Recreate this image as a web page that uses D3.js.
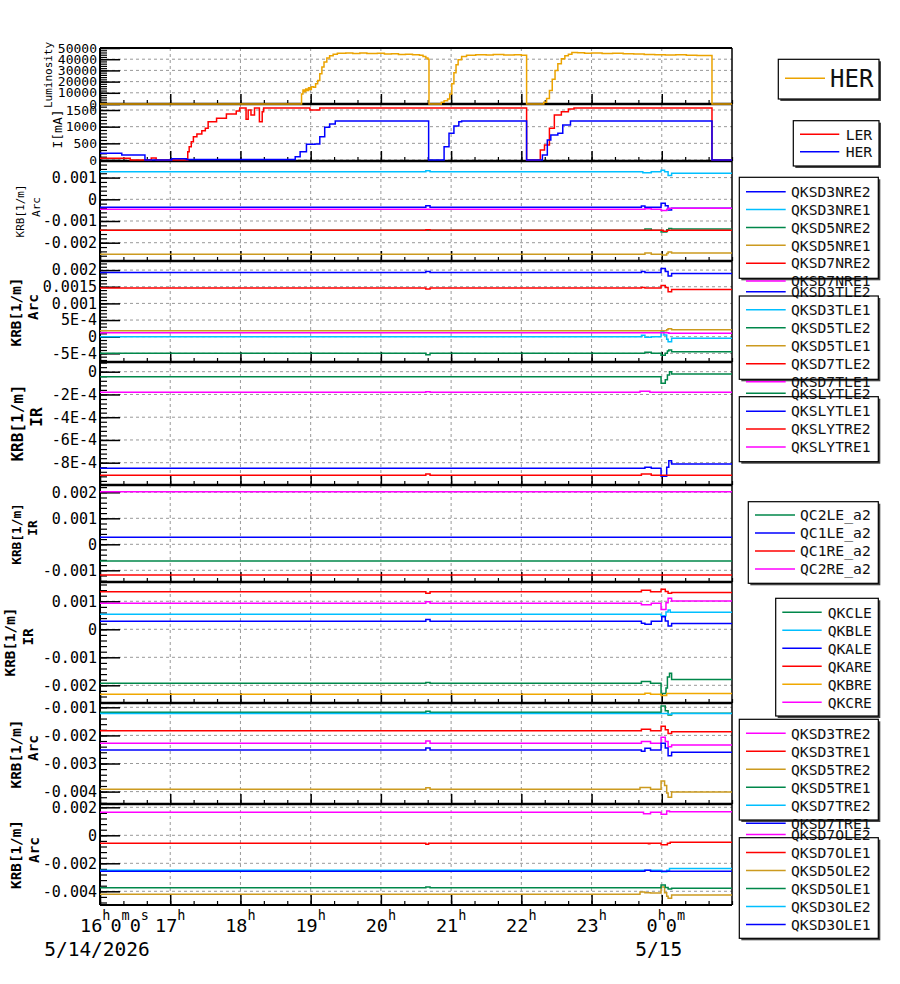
<!DOCTYPE html>
<html><head><meta charset="utf-8">
<script src="https://cdn.jsdelivr.net/npm/d3@7"></script>
<style>body{margin:0;background:#fff}svg{display:block}</style>
</head><body>
<svg id="c" width="900" height="984"></svg>
<script>
// ---------------- DATA ----------------
const timeDomain = [16, 25];              // hours since 5/14/2026 00:00
const hourTicks = [16,17,18,19,20,21,22,23,24];
const hourText = ["16^h0^m0^s","17^h","18^h","19^h","20^h","21^h","22^h","23^h","0^h0^m"];
const dateTicks = [16, 24];
const dateText = ["5/14/2026", "5/15"];

const yDomains = [
  [0, 50000], [-30, 1680], [-0.002843, 0.001765], [-0.00076, 0.002273], [-0.000996, 0.0000853],
  [-0.00145, 0.002281], [-0.002632, 0.001689], [-0.004441, -0.000847], [-0.004979, 0.002236]
];
const yTicks = [
  [0,10000,20000,30000,40000,50000],
  [0,500,1000,1500],
  [-0.002,-0.001,0,0.001],
  [-0.0005,0,0.0005,0.001,0.0015,0.002],
  [-0.0008,-0.0006,-0.0004,-0.0002,0],
  [-0.001,0,0.001,0.002],
  [-0.002,-0.001,0,0.001],
  [-0.004,-0.003,-0.002,-0.001],
  [-0.004,-0.002,0,0.002]
];
const yTickLabels = [
  ["0","10000","20000","30000","40000","50000"],
  ["0","500","1000","1500"],
  ["-0.002","-0.001","0","0.001"],
  ["-5E-4","0","5E-4","0.001","0.0015","0.002"],
  ["-8E-4","-6E-4","-4E-4","-2E-4","0"],
  ["-0.001","0","0.001","0.002"],
  ["-0.002","-0.001","0","0.001"],
  ["-0.004","-0.003","-0.002","-0.001"],
  ["-0.004","-0.002","0","0.002"]
];
const yTitles = [
  ["Luminosity"], ["I[mA]"], ["KRB[1/m]","Arc"], ["KRB[1/m]","Arc"], ["KRB[1/m]","IR"],
  ["KRB[1/m]","IR"], ["KRB[1/m]","IR"], ["KRB[1/m]","Arc"], ["KRB[1/m]","Arc"]
];

// Panel 1: luminosity
const p1Names = ["HER"];
const lumHER = [[16,0],[18.86,0],[18.87,9000],[18.89,12500],[18.91,11000],[18.93,13500],[18.95,12000],[18.97,14500],[18.99,13000],[19.01,15500],[19.04,15000],[19.07,18000],[19.1,21000],[19.13,27000],[19.16,33000],[19.19,37500],[19.23,41000],[19.27,43000],[19.32,44500],[19.38,45300],[19.5,45600],[19.6,45200],[19.7,45500],[19.8,45000],[19.95,45300],[20.05,44600],[20.15,44900],[20.25,44300],[20.35,44500],[20.45,44000],[20.55,43500],[20.6,42500],[20.64,41000],[20.67,40000],[20.685,0],[20.83,0],[20.86,1500],[20.9,3000],[20.95,4500],[20.98,9000],[21.01,18000],[21.04,28000],[21.07,35000],[21.1,39500],[21.15,42500],[21.22,43500],[21.35,44000],[21.5,43700],[21.6,44100],[21.75,43800],[21.9,43900],[22.0,43600],[22.075,0],[22.29,0],[22.32,1500],[22.36,5000],[22.4,12000],[22.44,22000],[22.48,30000],[22.52,36000],[22.57,40500],[22.62,43000],[22.67,44500],[22.72,46000],[22.8,45800],[22.9,45400],[23.0,45600],[23.15,45000],[23.3,45300],[23.45,44800],[23.6,44600],[23.75,44200],[23.9,44000],[24.05,43700],[24.2,44000],[24.35,43500],[24.5,43400],[24.6,43200],[24.715,0],[25,0]];

// Panel 2: beam currents
const p2Names = ["LER","HER"];
const curLER = [[16,50],[16.43,0],[16.73,60],[16.8,0],[17.23,0],[17.25,250],[17.27,400],[17.3,550],[17.33,700],[17.38,780],[17.45,880],[17.5,950],[17.54,1150],[17.66,1250],[17.8,1380],[17.94,1470],[17.99,1560],[18.08,1220],[18.11,1500],[18.15,1350],[18.2,1560],[18.27,1150],[18.31,1450],[18.33,1560],[18.99,1500],[19.13,1560],[22.075,0],[22.24,0],[22.27,300],[22.33,450],[22.4,950],[22.47,1350],[22.57,1450],[22.67,1530],[22.75,1560],[24.715,0],[25,0]];
const curHER = [[16,200],[16.31,150],[16.64,0],[17.02,40],[17.23,15],[18.7,15],[18.78,100],[18.85,250],[18.94,470],[19.06,480],[19.13,700],[19.2,980],[19.27,1080],[19.35,1170],[20.68,0],[20.84,0],[20.9,400],[20.97,800],[21.04,1020],[21.11,1150],[21.15,1170],[22.075,0],[22.26,0],[22.3,150],[22.37,600],[22.42,750],[22.52,800],[22.59,1050],[22.7,1170],[24.715,0],[25,0]];

// Panel 3
const p3Names = ["QKSD3NRE2","QKSD3NRE1","QKSD5NRE2","QKSD5NRE1","QKSD7NRE2","QKSD7NRE1"];
const p3Series = [
  [[16,-0.00037],[20.64,-0.00030],[20.7,-0.00037],[23.71,-0.00031],[23.76,-0.00037],[23.99,-0.00018],[24.05,-0.00030],[24.09,-0.00049],[24.14,-0.00041],[25,-0.00041]],
  [[16,0.00127],[20.64,0.00131],[20.7,0.00127],[23.73,0.00122],[23.85,0.00127],[23.99,0.00134],[24.04,0.00127],[24.09,0.00110],[24.14,0.00120],[25,0.00120]],
  [[16,-0.00143],[23.76,-0.00137],[23.85,-0.00143],[23.99,-0.00151],[24.07,-0.00140],[24.1,-0.00135],[24.14,-0.00137],[25,-0.00137]],
  [[16,-0.00253],[23.76,-0.00247],[23.85,-0.00253],[24.0,-0.00257],[24.07,-0.00250],[24.09,-0.00243],[24.14,-0.00247],[25,-0.00247]],
  [[16,-0.00143],[20.64,-0.00140],[20.7,-0.00143],[24.02,-0.00147],[24.08,-0.00143],[25,-0.00143]],
  [[16,-0.00046],[23.76,-0.00043],[23.85,-0.00046],[23.99,-0.00052],[24.07,-0.00046],[24.1,-0.00041],[25,-0.00041]]
];
// Panel 4
const p4Names = ["QKSD3TLE2","QKSD3TLE1","QKSD5TLE2","QKSD5TLE1","QKSD7TLE2","QKSD7TLE1"];
const p4Series = [
  [[16,0.00193],[20.64,0.00196],[20.7,0.00193],[23.71,0.00196],[23.76,0.00193],[23.99,0.00205],[24.05,0.00196],[24.09,0.00182],[24.14,0.00190],[25,0.00190]],
  [[16,0.00000],[23.71,0.00004],[23.76,-0.00002],[23.85,0.0],[23.99,0.00015],[24.03,0.00005],[24.07,-0.00008],[24.09,-0.00015],[24.14,-0.00005],[25,-0.00005]],
  [[16,-0.0005],[20.64,-0.00054],[20.7,-0.0005],[23.76,-0.00047],[23.85,-0.0005],[23.99,-0.00056],[24.05,-0.0005],[24.08,-0.00043],[24.1,-0.0004],[24.14,-0.00045],[25,-0.00045]],
  [[16,0.00018],[24.07,0.00021],[24.09,0.00024],[24.14,0.00021],[25,0.00021]],
  [[16,0.00146],[20.64,0.00143],[20.7,0.00146],[23.71,0.00148],[23.76,0.00146],[23.99,0.00154],[24.05,0.00148],[24.09,0.00135],[24.14,0.00142],[25,0.00142]],
  [[16,0.00012],[24.1,0.00010],[25,0.00010]]
];
// Panel 5
const p5Names = ["QKSLYTLE2","QKSLYTLE1","QKSLYTRE2","QKSLYTRE1"];
const p5Series = [
  [[16,-0.000044],[23.99,-0.000102],[24.05,-0.00007],[24.08,-0.00003],[24.11,0.0],[24.14,-0.00002],[25,-0.00002]],
  [[16,-0.000849],[23.76,-0.00084],[23.85,-0.000849],[23.99,-0.00092],[24.07,-0.00084],[24.1,-0.000782],[24.14,-0.000811],[25,-0.000811]],
  [[16,-0.00091],[20.64,-0.0009],[20.7,-0.00091],[23.71,-0.0009],[23.85,-0.00091],[25,-0.00091]],
  [[16,-0.000181],[20.64,-0.000176],[20.7,-0.000181],[23.69,-0.000172],[23.83,-0.000181],[25,-0.000181]]
];
// Panel 6
const p6Names = ["QC2LE_a2","QC1LE_a2","QC1RE_a2","QC2RE_a2"];
const p6Series = [
  [[16,-0.00064],[25,-0.00064]],
  [[16,0.00027],[25,0.00027]],
  [[16,-0.00118],[25,-0.00118]],
  [[16,0.00202],[25,0.00202]]
];
// Panel 7
const p7Names = ["QKCLE","QKBLE","QKALE","QKARE","QKBRE","QKCRE"];
const p7Series = [
  [[16,-0.00193],[20.64,-0.0019],[20.7,-0.00193],[23.71,-0.00186],[23.84,-0.00193],[23.99,-0.00229],[24.06,-0.0021],[24.08,-0.0017],[24.11,-0.00157],[24.14,-0.00179],[25,-0.00179]],
  [[16,0.00054],[23.99,0.00048],[24.06,0.00062],[24.09,0.00069],[24.12,0.00061],[25,0.00061]],
  [[16,0.00029],[20.64,0.00035],[20.7,0.00029],[23.71,0.00022],[23.76,0.00018],[23.85,0.00029],[24.0,0.00045],[24.05,0.00030],[24.09,0.00012],[24.14,0.00021],[25,0.00021]],
  [[16,0.00134],[20.64,0.00129],[20.7,0.00134],[23.71,0.00139],[23.84,0.00134],[23.99,0.00143],[24.05,0.00135],[24.09,0.00129],[24.14,0.00131],[25,0.00131]],
  [[16,-0.00232],[23.76,-0.00228],[23.84,-0.00232],[23.99,-0.00236],[24.07,-0.00229],[25,-0.00229]],
  [[16,0.00093],[20.64,0.00098],[20.7,0.00093],[23.71,0.00088],[23.85,0.00093],[23.99,0.00071],[24.06,0.00095],[24.09,0.00111],[24.14,0.00101],[25,0.00101]]
];
// Panel 8
const p8Names = ["QKSD3TRE2","QKSD3TRE1","QKSD5TRE2","QKSD5TRE1","QKSD7TRE2","QKSD7TRE1"];
const p8Series = [
  [[16,-0.00228],[20.64,-0.0022],[20.7,-0.00228],[23.71,-0.00222],[23.84,-0.00228],[23.99,-0.00207],[24.05,-0.00222],[24.09,-0.0024],[24.14,-0.00234],[25,-0.00234]],
  [[16,-0.00183],[23.71,-0.00178],[23.84,-0.00183],[23.99,-0.00167],[24.05,-0.0018],[24.09,-0.00193],[24.14,-0.00187],[25,-0.00187]],
  [[16,-0.00392],[20.64,-0.00386],[20.7,-0.00392],[23.69,-0.00385],[23.84,-0.00392],[23.99,-0.00362],[24.04,-0.00378],[24.07,-0.00405],[24.09,-0.0042],[24.14,-0.00401],[25,-0.00401]],
  [[16,-0.00118],[20.64,-0.00114],[20.7,-0.00118],[23.99,-0.00095],[24.05,-0.00112],[24.09,-0.00127],[24.14,-0.00121],[25,-0.00121]],
  [[16,-0.00122],[24.09,-0.00125],[24.14,-0.00122],[25,-0.00122]],
  [[16,-0.00252],[20.64,-0.00245],[20.7,-0.00252],[23.71,-0.00256],[23.76,-0.00246],[23.84,-0.00252],[23.99,-0.00228],[24.05,-0.00245],[24.09,-0.00272],[24.14,-0.0026],[25,-0.0026]]
];
// Panel 9
const p9Names = ["QKSD7OLE2","QKSD7OLE1","QKSD5OLE2","QKSD5OLE1","QKSD3OLE2","QKSD3OLE1"];
const p9Series = [
  [[16,0.00164],[23.74,0.00154],[23.84,0.00164],[23.99,0.0015],[24.07,0.00174],[24.11,0.00169],[25,0.00169]],
  [[16,-0.00057],[20.64,-0.00064],[20.68,-0.00057],[23.81,-0.0006],[23.83,-0.00057],[23.99,-0.00067],[24.08,-0.00057],[24.12,-0.0005],[25,-0.0005]],
  [[16,-0.00421],[23.69,-0.00405],[23.76,-0.0041],[23.84,-0.00412],[23.99,-0.0037],[24.04,-0.0041],[24.07,-0.00435],[24.09,-0.0045],[24.14,-0.00426],[25,-0.00426]],
  [[16,-0.00374],[20.64,-0.0037],[20.7,-0.00374],[23.99,-0.00355],[24.05,-0.00372],[24.09,-0.00383],[24.14,-0.00379],[25,-0.00379]],
  [[16,-0.0025],[24.0,-0.0026],[24.07,-0.0025],[24.11,-0.00238],[25,-0.00238]],
  [[16,-0.00257],[23.76,-0.0025],[23.84,-0.00257],[25,-0.00257]]
];

const panelNames = [p1Names, p2Names, p3Names, p4Names, p5Names, p6Names, p7Names, p8Names, p9Names];
const panelSeries = [[lumHER], [curLER, curHER], p3Series, p4Series, p5Series, p6Series, p7Series, p8Series, p9Series];

// ---------------- STYLE / LAYOUT ----------------
const RED="#ff0000", BLUE="#0000ff", CYAN="#00bfff", GREEN="#00874a", GOLD="#cc9a1f", ORANGE="#f0a800", MAG="#ff00ff", LUM="#eba300";
const panelColors = [
  [LUM], [RED, BLUE],
  [BLUE, CYAN, GREEN, GOLD, RED, MAG],
  [BLUE, CYAN, GREEN, GOLD, RED, MAG],
  [GREEN, BLUE, RED, MAG],
  [GREEN, BLUE, RED, MAG],
  [GREEN, CYAN, BLUE, RED, ORANGE, MAG],
  [MAG, RED, GOLD, GREEN, CYAN, BLUE],
  [MAG, RED, GOLD, GREEN, CYAN, BLUE]
];
const bounds = [48,104,161,261,362,485,582,703,804,905];
const tickFs = [13,13,15,15,15,15,15,15,15];
const titleStyle = [
  [{x:48,y:75,fs:11,w:"normal"}],
  [{x:57,y:129,fs:13,w:"normal"}],
  [{x:20,y:211,fs:11,w:"normal"},{x:36,y:207,fs:11,w:"normal"}],
  [{x:16,y:312,fs:14.3,w:"bold"},{x:33,y:307,fs:14.3,w:"bold"}],
  [{x:17.5,y:423,fs:16,w:"bold"},{x:36,y:417,fs:16,w:"bold"}],
  [{x:17,y:534,fs:12.8,w:"bold"},{x:33,y:528,fs:12.8,w:"bold"}],
  [{x:10,y:642,fs:14.3,w:"bold"},{x:27.5,y:637,fs:14.3,w:"bold"}],
  [{x:16,y:754,fs:14.3,w:"bold"},{x:33,y:748,fs:14.3,w:"bold"}],
  [{x:16,y:854.5,fs:14.3,w:"bold"},{x:33.5,y:850,fs:14.3,w:"bold"}]
];
const legendLayout = [
  {x:778.3,y:59.3,w:100.7,h:39.7,lx0:785,lx1:825,tx:830,y0:78.3,dy:0,fs:24},
  {x:793.3,y:120.7,w:85.7,h:45.3,lx0:800,lx1:839.3,tx:845.7,y0:134.3,dy:17.4,fs:14.7},
  {x:739.3,y:177.3,w:139,h:101,lx0:746,lx1:785.7,tx:791,y0:191.7,dy:17.86,fs:14.7},
  {x:739.3,y:296,w:139,h:83.3,lx0:746,lx1:785.7,tx:791,y0:291.7,dy:18,fs:14.7},
  {x:739.3,y:396.7,w:139,h:65,lx0:746,lx1:785.7,tx:791,y0:393.3,dy:17.9,fs:14.7},
  {x:748.3,y:501.7,w:130,h:81.6,lx0:755,lx1:795,tx:800,y0:515,dy:18,fs:14.7},
  {x:775.7,y:598.3,w:102.6,h:117.7,lx0:782.3,lx1:821.7,tx:827.7,y0:612.3,dy:18,fs:14.7},
  {x:739.3,y:719.3,w:139,h:100.7,lx0:746,lx1:785.7,tx:791,y0:733.3,dy:18,fs:14.7},
  {x:739.3,y:837.7,w:139,h:100.6,lx0:746,lx1:785.7,tx:791,y0:834.5,dy:18,fs:14.7}
];
const MONO = "'DejaVu Sans Mono', monospace";
const X0 = 100, X1 = 732;

// ---------------- DRAW ----------------
const svg = d3.select("#c");
const base = new Date(2026,4,14).getTime();
const T = h => new Date(base + h*3600000);
const x = d3.scaleTime().domain(timeDomain.map(T)).range([X0, X1]);
const hourDates = hourTicks.map(T);
const minorDates = d3.range(timeDomain[0]*3, timeDomain[1]*3 + 1).map(v => T(v/3));

const gGrid = svg.append("g"), gFrame = svg.append("g"), gAxes = svg.append("g"), gData = svg.append("g"), gLeg = svg.append("g");
const defs = svg.append("defs");

panelSeries.forEach((series, p) => {
  const top = bounds[p], bottom = bounds[p+1];
  const y = d3.scaleLinear().domain(yDomains[p]).range([bottom, top]);
  const ticks = yTicks[p];
  // grid
  gGrid.selectAll(null).data(ticks).enter().append("line")
    .attr("x1", X0).attr("x2", X1).attr("y1", d => y(d)).attr("y2", d => y(d))
    .attr("stroke", "#999").attr("stroke-width", 1).attr("stroke-dasharray", "3,3");
  gGrid.selectAll(null).data(hourDates.slice(1)).enter().append("line")
    .attr("x1", d => x(d)).attr("x2", d => x(d)).attr("y1", top).attr("y2", bottom)
    .attr("stroke", "#999").attr("stroke-width", 1).attr("stroke-dasharray", "3,3");
  // y axis major
  const ga = gAxes.append("g").attr("transform", `translate(${X0},0)`)
    .call(d3.axisLeft(y).tickValues(ticks).tickSize(-20).tickPadding(3).tickFormat((d,i) => yTickLabels[p][i]));
  ga.select(".domain").remove();
  ga.selectAll("line").attr("stroke-width", 1.5);
  ga.selectAll("text").attr("font-family", MONO).attr("font-size", tickFs[p]).attr("fill", "#000");
  // y axis minor
  const step = Math.abs(ticks[1] - ticks[0]) / 5;
  const [dmin, dmax] = yDomains[p];
  const minors = d3.range(Math.ceil(dmin/step - 1e-6), Math.floor(dmax/step + 1e-6) + 1).map(k => k*step);
  const gm = gAxes.append("g").attr("transform", `translate(${X0},0)`)
    .call(d3.axisLeft(y).tickValues(minors).tickSize(-7).tickFormat(""));
  gm.select(".domain").remove();
  gm.selectAll("line").attr("stroke-width", 1.2);
  // x ticks at bottom
  const gx = gAxes.append("g").attr("transform", `translate(0,${bottom})`)
    .call(d3.axisBottom(x).tickValues(hourDates).tickSize(-10).tickFormat(""));
  gx.select(".domain").remove(); gx.selectAll("line").attr("stroke-width", 1.5);
  const gx2 = gAxes.append("g").attr("transform", `translate(0,${bottom})`)
    .call(d3.axisBottom(x).tickValues(minorDates).tickSize(-4).tickFormat(""));
  gx2.select(".domain").remove(); gx2.selectAll("line").attr("stroke-width", 1.2);
  // titles
  yTitles[p].forEach((t, i) => {
    const s = titleStyle[p][i];
    gAxes.append("text").attr("transform", `translate(${s.x},${s.y}) rotate(-90)`)
      .attr("text-anchor", "middle").attr("dy", "0.35em")
      .attr("font-family", MONO).attr("font-size", s.fs).attr("font-weight", s.w).text(t);
  });
  // data
  const cid = "clip" + p;
  defs.append("clipPath").attr("id", cid).append("rect")
    .attr("x", X0).attr("y", top - 1.5).attr("width", X1 - X0).attr("height", bottom - top + 3);
  const line = d3.line().x(d => x(T(d[0]))).y(d => y(d[1])).curve(d3.curveStepAfter);
  const gd = gData.append("g").attr("clip-path", `url(#${cid})`);
  series.forEach((s, i) => {
    gd.append("path").datum(s).attr("d", line).attr("fill", "none")
      .attr("stroke", panelColors[p][i]).attr("stroke-width", 1.5);
  });
});

// frames
gFrame.append("line").attr("x1", X0).attr("x2", X1).attr("y1", bounds[0]).attr("y2", bounds[0]).attr("stroke", "#000").attr("stroke-width", 2);
bounds.slice(1, -1).forEach(b => gFrame.append("line").attr("x1", X0).attr("x2", X1).attr("y1", b).attr("y2", b).attr("stroke", "#000").attr("stroke-width", 2.6));
gFrame.append("line").attr("x1", X0).attr("x2", X1).attr("y1", bounds[9]).attr("y2", bounds[9]).attr("stroke", "#000").attr("stroke-width", 2);
gFrame.append("line").attr("x1", X0).attr("x2", X0).attr("y1", bounds[0]).attr("y2", bounds[9]).attr("stroke", "#000").attr("stroke-width", 2);
gFrame.append("line").attr("x1", X1).attr("x2", X1).attr("y1", bounds[0]).attr("y2", bounds[9]).attr("stroke", "#000").attr("stroke-width", 1.5);

// x-axis labels with superscripts
function richText(g, str, xpos, ypos, anchor, fs, sfs, raise) {
  const t = g.append("text").attr("x", xpos).attr("y", ypos).attr("text-anchor", anchor)
    .attr("font-family", MONO).attr("font-size", fs);
  let i = 0, buf = "", lifted = false;
  const flush = () => { if (buf) { const sp = t.append("tspan").text(buf); if (lifted) { sp.attr("dy", raise); lifted = false; } buf = ""; } };
  while (i < str.length) {
    if (str[i] === "^") {
      flush();
      t.append("tspan").attr("font-size", sfs).attr("dy", lifted ? 0 : -raise).text(str[i+1]);
      lifted = true; i += 2;
    } else { buf += str[i]; i++; }
  }
  if (buf) flush();
}
hourTicks.forEach((h, i) => {
  let xp = x(T(h)), anchor = "middle";
  if (i === 0) { xp = xp - 20; anchor = "start"; }
  if (i === hourTicks.length - 1) { xp = xp + 4; }
  richText(gAxes, hourText[i], xp, 931.5, anchor, 18.5, 13.5, 11.5);
});
dateTicks.forEach((h, i) => {
  gAxes.append("text").attr("x", x(T(h)) - 3).attr("y", 955.5).attr("text-anchor", "middle")
    .attr("font-family", MONO).attr("font-size", 19.5).text(dateText[i]);
});

// legends
legendLayout.forEach(L => {
  gLeg.append("rect").attr("x", L.x + 2).attr("y", L.y + 2).attr("width", L.w).attr("height", L.h).attr("fill", "#444");
  gLeg.append("rect").attr("x", L.x).attr("y", L.y).attr("width", L.w).attr("height", L.h).attr("fill", "#fff");
});
const gLegText = gLeg.append("g");
legendLayout.forEach((L, p) => {
  panelNames[p].forEach((n, i) => {
    const yy = L.y0 + i * L.dy;
    gLegText.append("line").attr("x1", L.lx0).attr("x2", L.lx1).attr("y1", yy).attr("y2", yy)
      .attr("stroke", panelColors[p][i]).attr("stroke-width", 1.5);
    gLegText.append("text").attr("x", L.tx).attr("y", yy).attr("dy", "0.36em")
      .attr("font-family", MONO).attr("font-size", L.fs).attr("fill", "#111").text(n);
  });
});
legendLayout.forEach(L => {
  gLeg.append("rect").attr("x", L.x).attr("y", L.y).attr("width", L.w).attr("height", L.h)
    .attr("fill", "none").attr("stroke", "#000").attr("stroke-width", 1.2);
});
</script>
</body></html>
